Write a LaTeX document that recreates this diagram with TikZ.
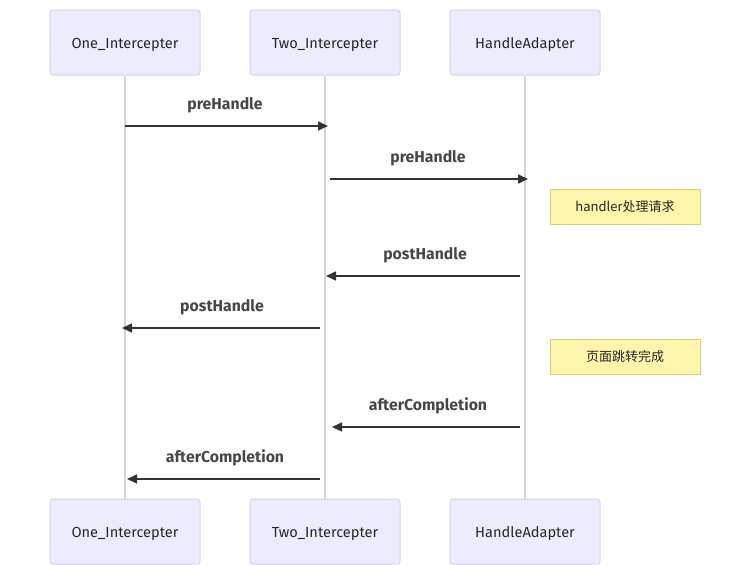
\documentclass[tikz,border=0pt]{standalone}
\usepackage{fontspec}
\setmainfont{Fira Sans}
\newfontfamily\cjk{Noto Sans CJK SC}
\usetikzlibrary{arrows.meta}
\definecolor{actfill}{HTML}{ECECFF}
\definecolor{actdraw}{HTML}{D6D0F5}
\definecolor{lifeline}{HTML}{D4D4D4}
\definecolor{msgcol}{HTML}{333333}
\definecolor{notefill}{HTML}{FFF5AD}
\definecolor{notedraw}{HTML}{D6CF7A}
\tikzset{
  x=1pt, y=-1pt,
  actor/.style={draw=actdraw, fill=actfill, line width=1pt, rounded corners=3pt,
    minimum width=150pt, minimum height=65pt, inner sep=0pt,
    font=\fontsize{14.6}{16}\selectfont, text=black!85, text height=13pt, text depth=1pt},
  life/.style={draw=lifeline, line width=1.5pt},
  msg/.style={draw=msgcol, line width=1.6pt, -{Triangle[length=10pt,width=9pt]}},
  mlabel/.style={font=\fontsize{15.8}{17}\selectfont\bfseries, text=msgcol!90},
  note/.style={draw=notedraw, fill=notefill, line width=1pt, minimum width=150pt,
    minimum height=35pt, inner sep=0pt, font=\cjk\fontsize{13}{15}\selectfont, text=black!85},
}
\begin{document}
\begin{tikzpicture}
\useasboundingbox (0,0) rectangle (750,565);
% actors
\node[actor] (a1) at (125,42.5) {One\_Intercepter};
\node[actor] (a2) at (325,42.5) {Two\_Intercepter};
\node[actor] (a3) at (525,42.5) {HandleAdapter};
\node[actor] (b1) at (125,531.5) {One\_Intercepter};
\node[actor] (b2) at (325,531.5) {Two\_Intercepter};
\node[actor] (b3) at (525,531.5) {HandleAdapter};
% lifelines
\draw[life] (a1.south) -- (b1.north);
\draw[life] (a2.south) -- (b2.north);
\draw[life] (a3.south) -- (b3.north);
% message endpoints
\coordinate (m1s) at (125,126); \coordinate (m1e) at (328,126);
\coordinate (m2s) at (330,179); \coordinate (m2e) at (528,179);
\coordinate (m3s) at (520,276); \coordinate (m3e) at (326,276);
\coordinate (m4s) at (320,328); \coordinate (m4e) at (122,328);
\coordinate (m5s) at (520,427); \coordinate (m5e) at (332,427);
\coordinate (m6s) at (320,479); \coordinate (m6e) at (127,479);
\draw[msg] (m1s) -- (m1e);
\draw[msg] (m2s) -- (m2e);
\draw[msg] (m3s) -- (m3e);
\draw[msg] (m4s) -- (m4e);
\draw[msg] (m5s) -- (m5e);
\draw[msg] (m6s) -- (m6e);
\node[mlabel] (l1) at (225,105.5) {preHandle};
\node[mlabel] (l2) at (428,158.5) {preHandle};
\node[mlabel] (l3) at (425,255.5) {postHandle};
\node[mlabel] (l4) at (222,307.5) {postHandle};
\node[mlabel] (l5) at (428,405.5) {afterCompletion};
\node[mlabel] (l6) at (225,457.5) {afterCompletion};
% notes
\node[note] (n1) at (625,206.5) {handler处理请求};
\node[note] (n2) at (625,356.5) {页面跳转完成};
\end{tikzpicture}
\end{document}
